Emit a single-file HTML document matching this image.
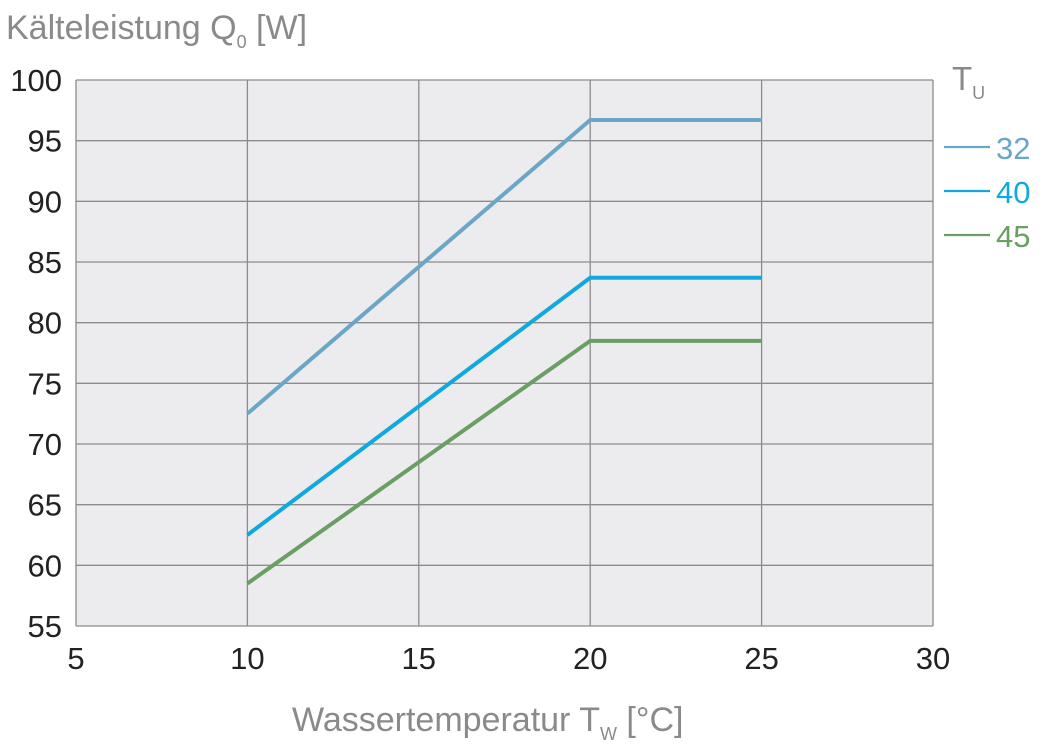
<!DOCTYPE html>
<html><head><meta charset="utf-8"><style>
body{margin:0;background:#fff;}
svg text{font-family:"Liberation Sans Narrow","Liberation Sans",sans-serif;}
</style></head><body>
<svg id="chart" width="1050" height="750" xmlns="http://www.w3.org/2000/svg">
<text x="6" y="39" font-size="34" fill="#8a8a8a">Kälteleistung Q<tspan font-size="18" dy="9">0</tspan><tspan dy="-9"> [W]</tspan></text>
<text x="292" y="731" font-size="34" fill="#8a8a8a">Wassertemperatur T<tspan font-size="18" dy="9">W</tspan><tspan dy="-9"> [°C]</tspan></text>
<text x="952" y="90" font-size="33" fill="#8a8a8a">T<tspan font-size="18" dy="9">U</tspan></text>
<g id="plot"></g>
</svg>
<script>
const categories=[10,20,25];
const s32=[72.5,96.7,96.7];
const s40=[62.5,83.7,83.7];
const s45=[58.5,78.5,78.5];
const seriesNames=["32","40","45"];
const xTicks=[5,10,15,20,25,30];
const yTicks=[55,60,65,70,75,80,85,90,95,100];
const NS="http://www.w3.org/2000/svg";
const X0=76,X1=933,Y0=626,Y1=80;
const xs=v=>X0+(v-5)/25*(X1-X0);
const ys=v=>Y0-(v-55)/45*(Y0-Y1);
const g=document.getElementById('plot');
function mk(t,a){const e=document.createElementNS(NS,t);for(const k in a)e.setAttribute(k,a[k]);g.appendChild(e);return e;}
const bg=mk('rect',{x:X0,y:Y1,width:X1-X0,height:Y0-Y1,fill:'#ececee'});


xTicks.forEach(t=>{
 const l=mk('line',{x1:xs(t),x2:xs(t),y1:Y1,y2:Y0,stroke:'#8c8c8c','stroke-width':1.3});
 
 
 const tx=mk('text',{x:xs(t),y:669,'font-size':31,fill:'#222','text-anchor':'middle'});
 tx.textContent=t;
 
 
});
yTicks.forEach(t=>{
 const l=mk('line',{x1:X0,x2:X1,y1:ys(t),y2:ys(t),stroke:'#8c8c8c','stroke-width':1.3});
 
 
 const tx=mk('text',{x:62,y:ys(t)+11,'font-size':31,fill:'#222','text-anchor':'end'});
 tx.textContent=t;
 
 
});
const series=[s32,s40,s45];
const colors=['#6aa6c8','#11a8e0','#6a9f64'];
series.forEach((s,i)=>{
 const p=mk('polyline',{points:s.map((v,j)=>xs(categories[j])+','+ys(v)).join(' '),fill:'none',stroke:colors[i],'stroke-width':4});
 
 
 const ly=147+i*44;
 const ll=mk('line',{x1:944,x2:990,y1:ly,y2:ly,stroke:colors[i],'stroke-width':2.2});
 
 
 const lt=mk('text',{x:996,y:ly+12,'font-size':31,fill:colors[i]});
 lt.textContent=seriesNames[i];
 
 
});
</script>
</body></html>
